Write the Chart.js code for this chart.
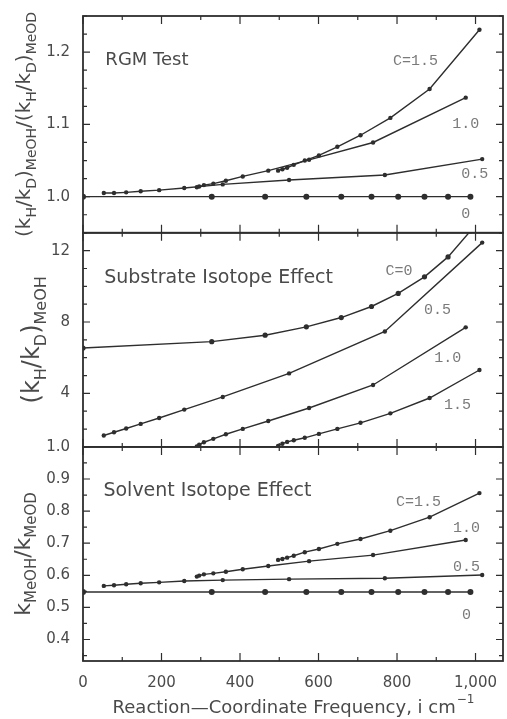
<!DOCTYPE html>
<html>
<head>
<meta charset="utf-8">
<script src="https://cdn.jsdelivr.net/npm/chart.js@4.4.0/dist/chart.umd.min.js"></script>
<style>
  html, body { margin: 0; padding: 0; background: #fff; }
  #wrap { position: relative; width: 507px; height: 719px; }
</style>
</head>
<body>
<div id="wrap"><canvas id="chart"></canvas></div>
<script>
// Frequencies (i cm^-1) of the computed points, one list per C value
const freqC0  = [0, 328, 464, 569, 658, 735, 803, 870, 930, 987];
const freqC05 = [53, 79, 110, 147, 194, 258, 356, 525, 769, 1017];
const freqC10 = [290, 296, 308, 332, 364, 407, 472, 576, 739, 975];
const freqC15 = [497, 508, 520, 537, 565, 601, 648, 707, 783, 883, 1010];

// RGM test (top panel)
const rgmC0  = [1.0, 1.0, 1.0, 1.0, 1.0, 1.0, 1.0, 1.0, 1.0, 1.0];
const rgmC05 = [1.005, 1.005, 1.006, 1.0075, 1.009, 1.012, 1.017, 1.023, 1.030, 1.052];
const rgmC10 = [1.013, 1.014, 1.016, 1.018, 1.022, 1.028, 1.036, 1.051, 1.075, 1.137];
const rgmC15 = [1.036, 1.038, 1.040, 1.044, 1.050, 1.057, 1.069, 1.085, 1.109, 1.149, 1.231];

// Substrate isotope effect (middle panel)
const subC0  = [6.54, 6.90, 7.26, 7.73, 8.25, 8.87, 9.60, 10.53, 11.65, 13.1];
const subC05 = [1.64, 1.82, 2.03, 2.29, 2.62, 3.09, 3.80, 5.12, 7.47, 12.45];
const subC10 = [1.03, 1.12, 1.26, 1.45, 1.71, 2.01, 2.45, 3.18, 4.47, 7.70];
const subC15 = [1.05, 1.18, 1.28, 1.37, 1.51, 1.73, 2.01, 2.35, 2.88, 3.74, 5.31];

// Solvent isotope effect (bottom panel)
const solC0  = [0.548, 0.548, 0.548, 0.548, 0.548, 0.548, 0.548, 0.548, 0.548, 0.548];
const solC05 = [0.567, 0.569, 0.572, 0.575, 0.578, 0.582, 0.585, 0.588, 0.591, 0.601];
const solC10 = [0.596, 0.599, 0.603, 0.606, 0.611, 0.619, 0.629, 0.644, 0.663, 0.710];
const solC15 = [0.648, 0.651, 0.655, 0.661, 0.672, 0.682, 0.698, 0.713, 0.739, 0.781, 0.856];

// Tick labels
const xTicks = [0, 200, 400, 600, 800, 1000];
const rgmTicks = [1.0, 1.1, 1.2];
const subTicks = [1, 4, 8, 12];
const solTicks = [0.4, 0.5, 0.6, 0.7, 0.8, 0.9];

const ink = '#2e2e2e';
const textInk = '#4a4a4a';
const labelInk = '#7a7a7a';

const panels = [
  { id: 'yRgm', min: 0.95, max: 1.25, ticks: rgmTicks, minor: 0.025, weight: 3, h: 216.7,
    fmt: v => v.toFixed(1) },
  { id: 'ySub', min: 1, max: 13, ticks: subTicks, minor: 1, weight: 2, h: 214,
    fmt: v => v === 1 ? '1.0' : String(v) },
  { id: 'ySol', min: 0.333, max: 1.0, ticks: solTicks, minor: 0.05, weight: 1, h: 214,
    fmt: v => v.toFixed(1) }
];

// Panel captions and curve labels, anchored in data units
const captions = [
  { axis: 'yRgm', text: 'RGM Test', x: 57, y: 1.188, size: 18 },
  { axis: 'ySub', text: 'Substrate Isotope Effect', x: 54, y: 10.49, size: 19 },
  { axis: 'ySol', text: 'Solvent Isotope Effect', x: 52, y: 0.862, size: 19 }
];
const curveLabels = [
  { axis: 'yRgm', text: 'C=1.5', x: 847, y: 1.188 },
  { axis: 'yRgm', text: '1.0', x: 975, y: 1.100 },
  { axis: 'yRgm', text: '0.5', x: 998, y: 1.032 },
  { axis: 'yRgm', text: '0', x: 975, y: 0.976 },
  { axis: 'ySub', text: 'C=0', x: 805, y: 10.88 },
  { axis: 'ySub', text: '0.5', x: 903, y: 8.65 },
  { axis: 'ySub', text: '1.0', x: 929, y: 5.96 },
  { axis: 'ySub', text: '1.5', x: 954, y: 3.33 },
  { axis: 'ySol', text: 'C=1.5', x: 855, y: 0.829 },
  { axis: 'ySol', text: '1.0', x: 977, y: 0.748 },
  { axis: 'ySol', text: '0.5', x: 977, y: 0.626 },
  { axis: 'ySol', text: '0', x: 977, y: 0.476 }
];

// y titles built from (text, subscript?) pieces
const yTitles = [
  { axis: 'yRgm', baseX: 30, main: 20, sub: 14, parts: [['(k', 0], ['H', 1], ['/k', 0], ['D', 1], [')', 0], ['MeOH', 1],
      ['/(k', 0], ['H', 1], ['/k', 0], ['D', 1], [')', 0], ['MeOD', 1]] },
  { axis: 'ySub', baseX: 39, main: 24, sub: 16, parts: [['(k', 0], ['H', 1], ['/k', 0], ['D', 1], [')', 0], ['MeOH', 1]] },
  { axis: 'ySol', baseX: 30, main: 22, sub: 15, parts: [['k', 0], ['MeOH', 1], ['/k', 0], ['MeOD', 1]] }
];

function series(xs, ys) {
  return xs.map((x, i) => ({ x: x, y: ys[i] }));
}

function line(xs, ys, axis, r) {
  return {
    data: series(xs, ys), yAxisID: axis,
    borderColor: ink, backgroundColor: ink, borderWidth: 1.4,
    pointRadius: r, pointBorderWidth: 0, pointBackgroundColor: ink,
    tension: 0, fill: false
  };
}

const datasets = [
  line(freqC0, rgmC0, 'yRgm', 3), line(freqC05, rgmC05, 'yRgm', 2.2),
  line(freqC10, rgmC10, 'yRgm', 2.2), line(freqC15, rgmC15, 'yRgm', 2.2),
  line(freqC0, subC0, 'ySub', 2.6), line(freqC05, subC05, 'ySub', 2.2),
  line(freqC10, subC10, 'ySub', 2.2), line(freqC15, subC15, 'ySub', 2.2),
  line(freqC0, solC0, 'ySol', 3), line(freqC05, solC05, 'ySol', 2.2),
  line(freqC10, solC10, 'ySol', 2.2), line(freqC15, solC15, 'ySol', 2.2)
];

const scales = {
  x: {
    type: 'linear', position: 'bottom', min: 0, max: 1070,
    afterBuildTicks: s => { s.ticks = xTicks.map(v => ({ value: v })); },
    afterFit: s => { s.height = 58; },
    grid: { display: false }, border: { display: false },
    ticks: { color: textInk, padding: 5, font: { family: 'DejaVu Sans', size: 15 } }
  }
};
panels.forEach(p => {
  scales[p.id] = {
    type: 'linear', position: 'left', stack: 'panels', stackWeight: p.h, weight: p.weight,
    min: p.min, max: p.max,
    afterBuildTicks: s => { s.ticks = p.ticks.map(v => ({ value: v })); },
    afterFit: s => { s.width = 83; },
    grid: { display: false }, border: { display: false },
    ticks: { color: textInk, padding: 5, font: { family: 'DejaVu Sans', size: 15 },
      callback: v => p.fmt(v) }
  };
});

function drawRich(ctx, parts, main, sub) {
  // draws along +x from the current origin, centred on it
  const fontMain = main + 'px "DejaVu Sans"';
  const fontSub = sub + 'px "DejaVu Sans"';
  let total = 0;
  parts.forEach(([t, s]) => { ctx.font = s ? fontSub : fontMain; total += ctx.measureText(t).width; });
  let x = -total / 2;
  parts.forEach(([t, s]) => {
    ctx.font = s ? fontSub : fontMain;
    ctx.fillText(t, x, s ? main * 0.28 : 0);
    x += ctx.measureText(t).width;
  });
}

const framePlugin = {
  id: 'frames',
  afterDatasetsDraw(chart) {
    const { ctx, chartArea, scales: sc } = chart;
    const left = chartArea.left, right = chartArea.right;
    const xs = sc.x;
    ctx.save();
    ctx.strokeStyle = ink;
    panels.forEach(p => {
      const ys = sc[p.id];
      const top = ys.top, bottom = ys.bottom;
      ctx.lineWidth = 1.8;
      ctx.strokeRect(left, top, right - left, bottom - top);
      ctx.lineWidth = 1.2;
      ctx.beginPath();
      for (let v = 0; v <= 1000; v += 100) {
        const px = xs.getPixelForValue(v);
        const len = v % 200 === 0 ? 8 : 4;
        ctx.moveTo(px, top); ctx.lineTo(px, top + len);
        ctx.moveTo(px, bottom); ctx.lineTo(px, bottom - len);
      }
      const n0 = Math.ceil(p.min / p.minor - 1e-6);
      const n1 = Math.floor(p.max / p.minor + 1e-6);
      for (let n = n0; n <= n1; n++) {
        const v = n * p.minor;
        const py = ys.getPixelForValue(v);
        const major = p.ticks.some(t => Math.abs(t - v) < 1e-6);
        const len = major ? 7 : 4;
        ctx.moveTo(left, py); ctx.lineTo(left + len, py);
        ctx.moveTo(right, py); ctx.lineTo(right - len, py);
      }
      ctx.stroke();
    });

    // captions
    ctx.fillStyle = textInk;
    ctx.textBaseline = 'middle';
    ctx.textAlign = 'left';
    captions.forEach(c => {
      ctx.font = c.size + 'px "DejaVu Sans"';
      ctx.fillText(c.text, xs.getPixelForValue(c.x), sc[c.axis].getPixelForValue(c.y));
    });
    // curve labels
    ctx.fillStyle = labelInk;
    ctx.textAlign = 'center';
    ctx.font = '15px "Liberation Mono"';
    curveLabels.forEach(c => {
      ctx.fillText(c.text, xs.getPixelForValue(c.x), sc[c.axis].getPixelForValue(c.y));
    });

    // y titles, rotated
    ctx.fillStyle = textInk;
    ctx.textAlign = 'left';
    ctx.textBaseline = 'alphabetic';
    yTitles.forEach(t => {
      const ys = sc[t.axis];
      ctx.save();
      ctx.translate(t.baseX, (ys.top + ys.bottom) / 2);
      ctx.rotate(-Math.PI / 2);
      drawRich(ctx, t.parts, t.main, t.sub);
      ctx.restore();
    });

    // x title with superscript
    ctx.textBaseline = 'alphabetic';
    const mainTxt = 'Reaction\u2014Coordinate Frequency, i cm';
    ctx.font = '18px "DejaVu Sans"';
    const w1 = ctx.measureText(mainTxt).width;
    ctx.font = '12px "DejaVu Sans"';
    const w2 = ctx.measureText('\u22121').width;
    const cx = (left + right) / 2;
    const x0 = cx - (w1 + w2) / 2;
    ctx.font = '18px "DejaVu Sans"';
    ctx.fillText(mainTxt, x0, 713);
    ctx.font = '12px "DejaVu Sans"';
    ctx.fillText('\u22121', x0 + w1 + 1, 703);
    ctx.restore();
  }
};

new Chart(document.getElementById('chart'), {
  type: 'line',
  data: { datasets: datasets },
  options: {
    responsive: true,
    maintainAspectRatio: false,
    animation: false,
    layout: { padding: { left: 0, top: 16, right: 4, bottom: 0 } },
    plugins: { legend: { display: false }, tooltip: { enabled: false } },
    scales: scales
  },
  plugins: [framePlugin]
});
</script>
</body>
</html>
